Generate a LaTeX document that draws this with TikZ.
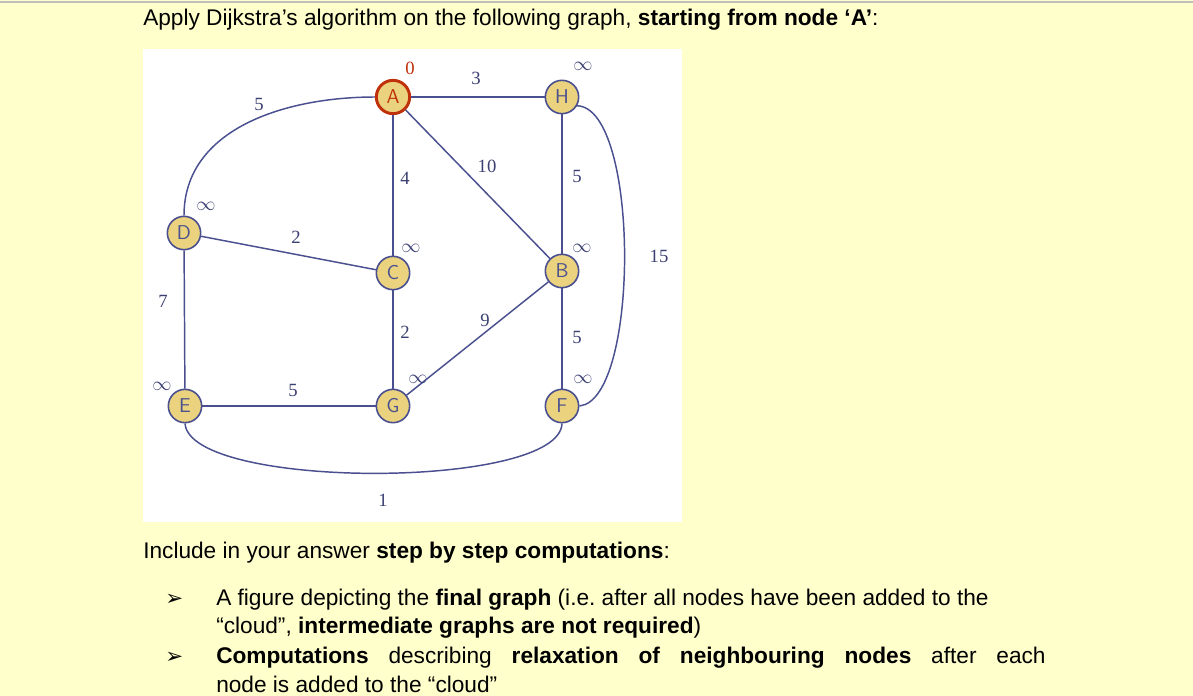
\documentclass[tikz,border=0pt]{standalone}
\usepackage{fontspec}
\setmainfont{Liberation Sans}
\newfontfamily\serifw{Liberation Serif}
\newfontfamily\dejav{DejaVu Sans}
\definecolor{bgy}{HTML}{FFFFCC}
\definecolor{edgec}{HTML}{4A508F}
\definecolor{nodef}{HTML}{EAD27E}
\definecolor{redb}{HTML}{C0300A}
\begin{document}
\begin{tikzpicture}[x=0.75pt,y=-0.75pt,
  vtx/.style={circle,draw=edgec,fill=nodef,line width=1.2pt,minimum size=25pt,inner sep=0pt,font=\sffamily\fontsize{15}{15}\selectfont,text=edgec},
  edg/.style={draw=edgec,line width=1.1pt},
  wl/.style={font=\serifw\fontsize{14}{14}\selectfont,text=edgec!80!black},
  txt/.style={anchor=west,inner sep=0pt,font=\fontsize{17}{20}\selectfont}]
\useasboundingbox (0,0) rectangle (1193,696);
\fill[bgy] (0,0) rectangle (1193,696);
\draw[gray!50,line width=1pt] (0,2) -- (1193,2);
\fill[white] (143,49) rectangle (682,522);
\node[txt] (t1) at (143,20) {Apply Dijkstra’s algorithm on the following graph, \textbf{starting from node ‘A’}:};
\node[vtx,draw=redb,line width=2.2pt,text=redb] (A) at (393,97) {A};
\node[vtx] (H) at (562,97) {H};
\node[vtx] (D) at (184,233) {D};
\node[vtx] (C) at (393,273) {C};
\node[vtx] (B) at (562,271) {B};
\node[vtx] (E) at (185,406) {E};
\node[vtx] (G) at (393,406) {G};
\node[vtx] (F) at (562,406) {F};
\draw[edg] (A) -- (H);
\draw[edg] (A) -- (C);
\draw[edg] (A) -- (B);
\draw[edg] (H) -- (B);
\draw[edg] (B) -- (F);
\draw[edg] (D) -- (C);
\draw[edg] (C) -- (G);
\draw[edg] (G) -- (B);
\draw[edg] (D) -- (E);
\draw[edg] (E) -- (G);
\draw[edg] (A.west) to[out=180,in=90] (D.north);
\draw[edg] (H.-30) .. controls (640,108) and (640,400) .. (F.east);
\draw[edg] (E.south) .. controls (190,490) and (560,490) .. (F.south);
\node[wl,text=redb] (l0) at (410,68) {0};
\node[wl] (l3) at (476,78) {3};
\node[wl] (iH) at (583,66) {$\infty$};
\node[wl] (l5a) at (259,104) {5};
\node[wl] (l10) at (487,166) {10};
\node[wl] (l4) at (405,178) {4};
\node[wl] (l5b) at (577,176) {5};
\node[wl] (iD) at (206,206) {$\infty$};
\node[wl] (l2a) at (296,237) {2};
\node[wl] (iC) at (411,248) {$\infty$};
\node[wl] (iB) at (582,248) {$\infty$};
\node[wl] (l15) at (659,256) {15};
\node[wl] (l7) at (163,301) {7};
\node[wl] (l9) at (485,320) {9};
\node[wl] (l2b) at (405,332) {2};
\node[wl] (l5c) at (577,337) {5};
\node[wl] (iE) at (162,386) {$\infty$};
\node[wl] (l5d) at (293,390) {5};
\node[wl] (iG) at (418,379) {$\infty$};
\node[wl] (iF) at (583,379) {$\infty$};
\node[wl] (l1) at (383,500) {1};
\node[txt] (t2) at (143,553) {Include in your answer \textbf{step by step computations}:};
\node[txt,font=\dejav\fontsize{16}{16}\selectfont] (b1) at (165,600) {➢};
\node[txt] (t3) at (216,600) {A figure depicting the \textbf{final graph} (i.e.\ after all nodes have been added to the};
\node[txt] (t4) at (216,628) {“cloud”, \textbf{intermediate graphs are not required})};
\node[txt,font=\dejav\fontsize{16}{16}\selectfont] (b2) at (165,658) {➢};
\node[txt] (t5) at (216,658) {\makebox[622pt][s]{\textbf{Computations} describing \textbf{relaxation of neighbouring nodes} after each}};
\node[txt] (t6) at (216,684) {node is added to the “cloud”};
\end{tikzpicture}
\end{document}
